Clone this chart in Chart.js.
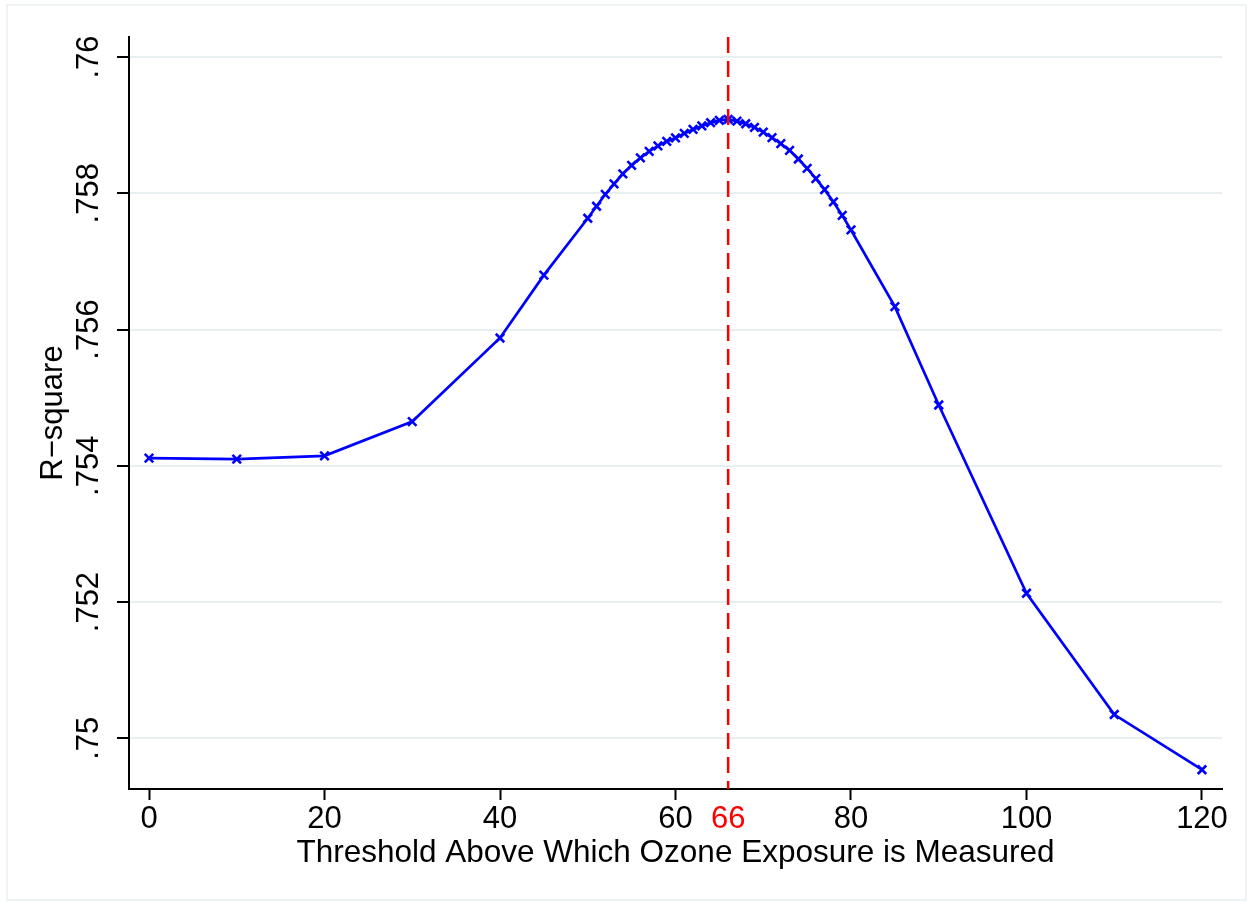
<!DOCTYPE html>
<html>
<head>
<meta charset="utf-8">
<script src="https://cdn.jsdelivr.net/npm/chart.js@4.4.1/dist/chart.umd.min.js"></script>
<style>
html, body { margin: 0; padding: 0; background: #fff; }
#wrap { width: 1252px; height: 907px; }
</style>
</head>
<body>
<div id="wrap"><canvas id="chart" width="1252" height="907"></canvas></div>
<script>
const thresholds = [0, 10, 20, 30, 40, 45, 50, 51, 52, 53, 54, 55, 56, 57, 58, 59, 60,
  61, 62, 63, 64, 65, 66, 67, 68, 69, 70, 71, 72, 73, 74, 75, 76, 77, 78, 79, 80,
  85, 90, 100, 110, 120];
const rSquare = [0.754113, 0.754098, 0.754146, 0.754649, 0.755876, 0.756799,
  0.757634, 0.757810, 0.757985, 0.758139, 0.758286, 0.758410, 0.758520, 0.758615,
  0.758696, 0.758762, 0.758813, 0.758879, 0.758938, 0.758989, 0.759036, 0.759070,
  0.759084, 0.759059, 0.759021, 0.758967, 0.758897, 0.758816, 0.758728, 0.758630,
  0.758503, 0.758366, 0.758215, 0.758054, 0.757873, 0.757676, 0.757462,
  0.756337, 0.754892, 0.752129, 0.750349, 0.749539];
const xTicks = [0, 20, 40, 60, 66, 80, 100, 120];
const yTicks = [0.75, 0.752, 0.754, 0.756, 0.758, 0.76];
const bestThreshold = 66;

const FONT = '"Liberation Sans", Arial, Helvetica, sans-serif';
Chart.defaults.font.family = FONT;
Chart.defaults.color = '#000';

const points = thresholds.map((t, i) => ({ x: t, y: rSquare[i] }));

function fmtR(v) {
  return String(parseFloat(v.toFixed(3))).replace(/^0/, '');
}

const frame = {
  id: 'frame',
  beforeDraw(chart) {
    const ctx = chart.ctx;
    ctx.save();
    ctx.fillStyle = '#fff';
    ctx.fillRect(0, 0, chart.width, chart.height);
    ctx.strokeStyle = '#e9f0f2';
    ctx.lineWidth = 1.5;
    ctx.strokeRect(7, 5, 1239, 895);
    ctx.restore();
  }
};

const peakLine = {
  id: 'peakLine',
  afterDatasetsDraw(chart) {
    const ctx = chart.ctx;
    const area = chart.chartArea;
    const x = chart.scales.x.getPixelForValue(bestThreshold);
    ctx.save();
    ctx.strokeStyle = '#ff0000';
    ctx.lineWidth = 2.5;
    ctx.setLineDash([16, 8]);
    ctx.beginPath();
    ctx.moveTo(x, area.top);
    ctx.lineTo(x, area.bottom);
    ctx.stroke();
    ctx.restore();
  }
};

new Chart(document.getElementById('chart').getContext('2d'), {
  type: 'scatter',
  data: {
    datasets: [{
      data: points,
      showLine: true,
      borderColor: '#0000ff',
      borderWidth: 2.7,
      pointStyle: 'crossRot',
      pointRadius: 6,
      pointBorderWidth: 2.6,
      pointBorderColor: '#0000ff',
      pointBackgroundColor: '#0000ff'
    }]
  },
  options: {
    responsive: false,
    animation: false,
    devicePixelRatio: 1,
    layout: { padding: { left: 20, right: 30, top: 37, bottom: 10 } },
    plugins: { legend: { display: false }, tooltip: { enabled: false } },
    scales: {
      x: {
        type: 'linear',
        min: -2.28,
        max: 122.28,
        afterBuildTicks: s => { s.ticks = xTicks.map(v => ({ value: v })); },
        afterFit: s => { s.height = 907 - 10 - 789; },
        ticks: {
          autoSkip: false, minRotation: 0, maxRotation: 0, padding: 1,
          font: { size: 31 },
          color: c => c.tick.value === bestThreshold ? '#ff0000' : '#000',
          callback: v => String(v)
        },
        grid: {
          drawOnChartArea: false, tickLength: 11, tickWidth: 2,
          tickColor: c => c.tick.value === bestThreshold ? 'rgba(0,0,0,0)' : '#000'
        },
        border: { color: '#000', width: 2 },
        title: {
          display: true, text: 'Threshold Above Which Ozone Exposure is Measured',
          font: { size: 31.5 }, color: '#000', padding: { top: 0, bottom: 25 }
        }
      },
      y: {
        type: 'linear',
        min: 0.749256,
        max: 0.760294,
        afterBuildTicks: s => { s.ticks = yTicks.map(v => ({ value: v })); },
        afterFit: s => { s.width = 109; },
        ticks: {
          autoSkip: false, minRotation: 90, maxRotation: 90, crossAlign: 'center', padding: -3,
          font: { size: 31 }, color: '#000',
          callback: v => fmtR(v)
        },
        grid: { color: '#e8eff1', lineWidth: 2, tickLength: 12, tickColor: '#000', tickWidth: 2 },
        border: { color: '#000', width: 2 },
        title: {
          display: true, text: 'R\u2212square',
          font: { size: 31 }, color: '#000', padding: { top: 15, bottom: 0 }
        }
      }
    }
  },
  plugins: [frame, peakLine]
});
</script>
</body>
</html>
